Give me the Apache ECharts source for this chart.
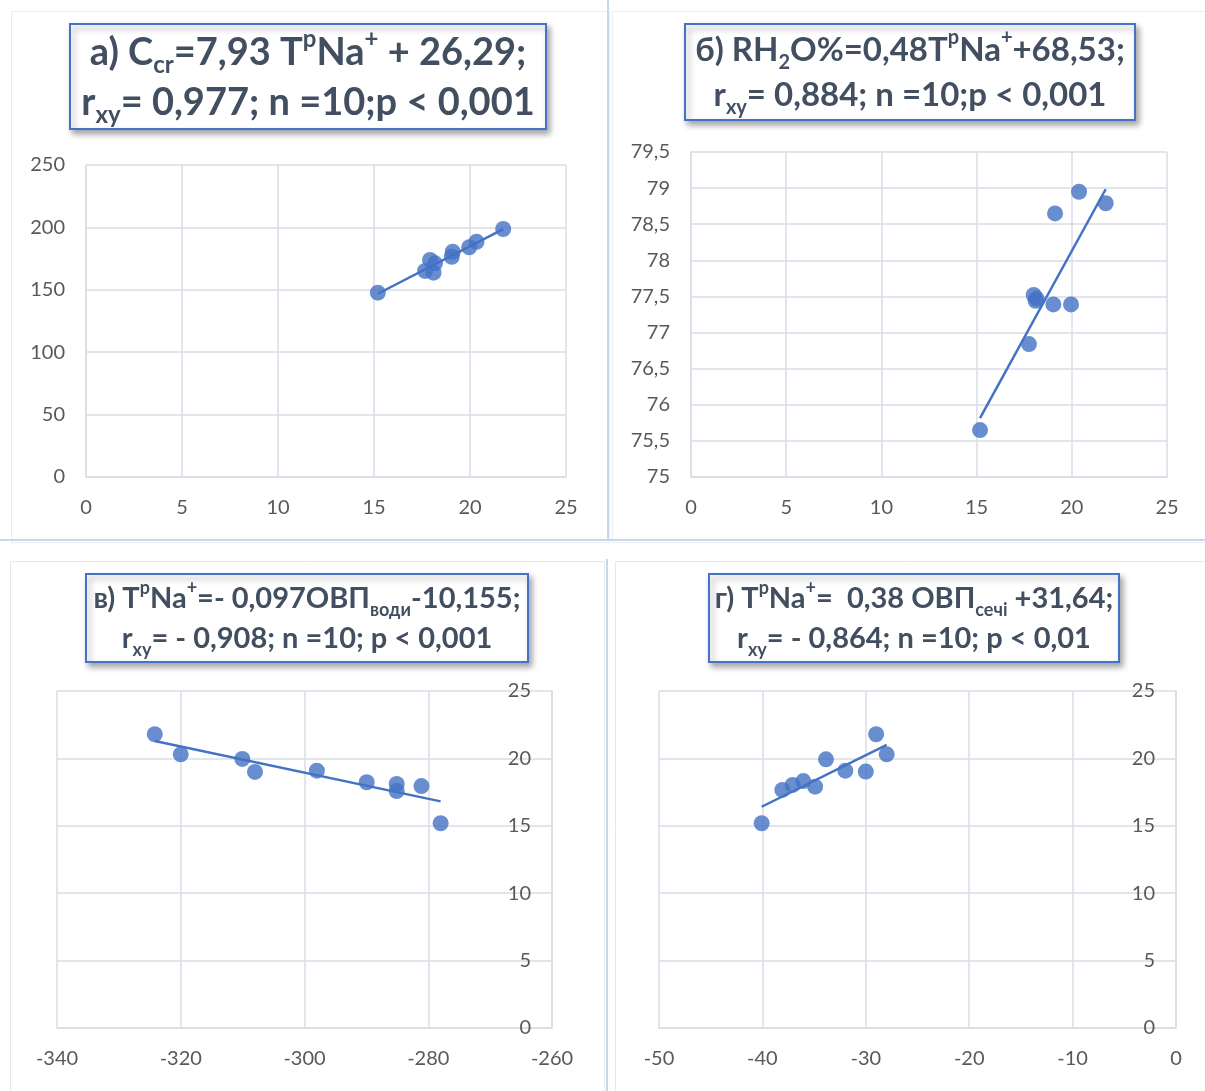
<!DOCTYPE html>
<html><head><meta charset="utf-8">
<script src="https://cdn.jsdelivr.net/npm/echarts@6/dist/echarts.min.js"></script>
<style>html,body{margin:0;padding:0;background:#fff}#c{width:1205px;height:1091px}</style>
</head><body><div id="c"></div><script>
// a) C_cr vs TpNa+
const aX = [15.2, 17.66, 17.92, 18.1, 18.18, 19.05, 19.1, 19.96, 20.34, 21.73];
const aY = [147.7, 165.1, 173.9, 163.7, 171.2, 176.5, 180.5, 184.1, 188.5, 198.7];
// b) RH2O% vs TpNa+
const bX = [15.18, 17.75, 18.0, 18.1, 18.15, 19.03, 19.12, 19.96, 20.38, 21.78];
const bY = [75.65, 76.84, 77.52, 77.44, 77.47, 77.39, 78.65, 77.39, 78.95, 78.79];
// c) TpNa+ vs ОВП води
const cX = [-324.2, -320.0, -310.05, -308.0, -298.0, -289.95, -285.1, -285.1, -281.1, -278.0];
const cY = [21.79, 20.3, 19.96, 19.0, 19.09, 18.23, 18.1, 17.58, 17.95, 15.19];
// d) TpNa+ vs ОВП сечі
const dX = [-40.07, -38.07, -37.07, -36.04, -34.9, -33.85, -31.98, -30.0, -29.0, -27.98];
const dY = [15.19, 17.66, 18.03, 18.32, 17.9, 19.93, 19.09, 19.02, 21.79, 20.3];
// regression coefficients [slope, intercept] from the titles
const coefA = [7.93, 26.29];
const coefB = [0.48, 68.53];
const coefC = [-0.097, -10.155];
const coefD = [0.38, 31.64];
// axis ranges [min, max, interval]
const axA = {x: [0, 25, 5], y: [0, 250, 50]};
const axB = {x: [0, 25, 5], y: [75, 79.5, 0.5]};
const axC = {x: [-340, -260, 20], y: [0, 25, 5]};
const axD = {x: [-50, 0, 10], y: [0, 25, 5]};

const BLUE = '#4472c4';
const GRID_C = '#d9dde4';
const LBL = '#595959';
const TXT = '#414f61';
const FONT = 'Lato, "Open Sans", sans-serif';
const fmt = v => String(v).replace('.', ',');

function pts(xs, ys){ return xs.map((x,i)=>[x, ys[i]]); }
function trend(xs, c){
  const lo = Math.min(...xs), hi = Math.max(...xs);
  return [[lo, c[0]*lo + c[1]], [hi, c[0]*hi + c[1]]];
}

const grids = [
  {left: 86, top: 165, width: 480, height: 312},
  {left: 691, top: 152, width: 476, height: 325},
  {left: 57, top: 691, width: 495, height: 337},
  {left: 659, top: 691, width: 517, height: 337}
];
const axes = [axA, axB, axC, axD];
const xAxis = axes.map((a,i)=>({
  gridIndex: i, type: 'value', min: a.x[0], max: a.x[1], interval: a.x[2],
  axisLine: {show: true, onZero: false, lineStyle: {color: GRID_C, width: 1.5}},
  axisTick: {show: false},
  splitLine: {show: true, lineStyle: {color: GRID_C, width: 1.5}},
  axisLabel: {color: LBL, fontSize: 20, fontFamily: FONT, margin: 21, formatter: fmt}
}));
const yAxis = axes.map((a,i)=>({
  gridIndex: i, type: 'value', min: a.y[0], max: a.y[1], interval: a.y[2],
  position: i >= 2 ? 'right' : 'left',
  axisLine: {show: true, onZero: false, lineStyle: {color: GRID_C, width: 1.5}},
  axisTick: {show: false},
  splitLine: {show: true, lineStyle: {color: GRID_C, width: 1.5}},
  axisLabel: {color: LBL, fontSize: 20, fontFamily: FONT, margin: 21, inside: i >= 2, formatter: fmt}
}));

const data = [[aX,aY,coefA],[bX,bY,coefB],[cX,cY,coefC],[dX,dY,coefD]];
const series = [];
data.forEach((d,i)=>{
  series.push({type: 'line', xAxisIndex: i, yAxisIndex: i, data: trend(d[0], d[2]),
    showSymbol: false, silent: true, z: 2, lineStyle: {color: BLUE, width: 2.5}});
  series.push({type: 'scatter', xAxisIndex: i, yAxisIndex: i, data: pts(d[0], d[1]),
    symbolSize: 16, z: 3, itemStyle: {color: BLUE}});
});

function titleBox(x, y, w, h, text, fs, lh){
  const sub = Math.round(fs*0.62);
  return {
    type: 'group', left: x, top: y, z: 100,
    children: [
      {type: 'rect', shape: {x: 0, y: 0, width: w, height: h},
       style: {fill: '#fff', stroke: BLUE, lineWidth: 2, shadowBlur: 6, shadowOffsetX: 3, shadowOffsetY: 4, shadowColor: 'rgba(0,0,0,0.35)'}},
      {type: 'text', x: w/2, y: h/2 + 1,
       style: {text: text, align: 'center', verticalAlign: 'middle', fill: TXT,
         font: 'bold ' + fs + 'px ' + FONT, lineHeight: lh,
         rich: {
           b: {fontSize: fs, fontWeight: 'bold', fontFamily: FONT, fill: TXT, lineHeight: lh},
           sub: {fontSize: sub, fontWeight: 'bold', fontFamily: FONT, fill: TXT, verticalAlign: 'bottom', lineHeight: Math.round(lh*0.8)},
           sup: {fontSize: sub, fontWeight: 'bold', fontFamily: FONT, fill: TXT, verticalAlign: 'top', lineHeight: Math.round(lh*0.8)}
         }}}
    ]
  };
}

const graphic = [
  {type: 'rect', left: 9, top: 9, shape: {width: 598, height: 531}, style: {fill: 'none', stroke: '#e9edf3', lineWidth: 1}, z: -1},
  {type: 'rect', left: 610, top: 9, shape: {width: 593, height: 531}, style: {fill: 'none', stroke: '#e9edf3', lineWidth: 1}, z: -1},
  {type: 'rect', left: 8, top: 559, shape: {width: 594, height: 530}, style: {fill: 'none', stroke: '#e8e8e8', lineWidth: 1}, z: -1},
  {type: 'rect', left: 613, top: 559, shape: {width: 590, height: 530}, style: {fill: 'none', stroke: '#e8e8e8', lineWidth: 1}, z: -1},
  {type: 'line', shape: {x1: 0, y1: 540, x2: 1205, y2: 540}, style: {stroke: '#c9d7ec', lineWidth: 2}, z: -1},
  {type: 'line', shape: {x1: 608, y1: 0, x2: 608, y2: 540}, style: {stroke: '#c9d7ec', lineWidth: 2}, z: -1},
  {type: 'line', shape: {x1: 607, y1: 559, x2: 607, y2: 1091}, style: {stroke: '#c9d7ec', lineWidth: 2}, z: -1},
  titleBox(69, 23, 476, 105, '{b|а) C}{sub|cr}{b|=7,93 T}{sup|р}{b|Na}{sup|+}{b| + 26,29;}\n{b|r}{sub|xy}{b|= 0,977; n =10;p < 0,001}', 38, 50),
  titleBox(684, 23, 450, 96, '{b|б) RH}{sub|2}{b|O%=0,48T}{sup|р}{b|Na}{sup|+}{b|+68,53;}\n{b|r}{sub|xy}{b|= 0,884; n =10;p < 0,001}', 33, 45),
  titleBox(85, 573, 442, 88, '{b|в) T}{sup|р}{b|Na}{sup|+}{b|=- 0,097ОВП}{sub|води}{b|-10,155;}\n{b|r}{sub|xy}{b|= - 0,908; n =10; p < 0,001}', 29, 40),
  titleBox(708, 573, 410, 88, '{b|г) T}{sup|р}{b|Na}{sup|+}{b|=  0,38 ОВП}{sub|сечі}{b| +31,64;}\n{b|r}{sub|xy}{b|= - 0,864; n =10; p < 0,01}', 29, 40)
];

const chart = echarts.init(document.getElementById('c'), null, {renderer: 'canvas'});
chart.setOption({
  animation: false,
  backgroundColor: '#fff',
  grid: grids,
  xAxis: xAxis,
  yAxis: yAxis,
  series: series,
  graphic: graphic
});
</script></body></html>
